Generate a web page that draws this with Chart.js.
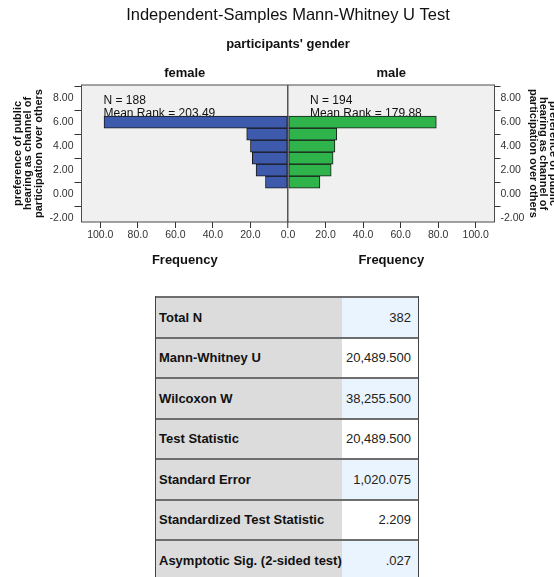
<!DOCTYPE html>
<html>
<head>
<meta charset="utf-8">
<script src="https://cdn.jsdelivr.net/npm/chart.js@4.4.1/dist/chart.umd.min.js"></script>
<style>
  body { margin: 0; background: #fff; width: 554px; height: 577px; overflow: hidden; position: relative;
         font-family: "Liberation Sans", Arial, sans-serif; }
  #chart { position: absolute; left: 0; top: 0; }
  #stats { position: absolute; left: 155px; top: 296px; width: 264px; box-sizing: border-box;
           border-left: 1.5px solid #444; border-right: 1.5px solid #444; }
  .row { display: flex; height: 40.5px; box-sizing: border-box; border-top: 2px solid #6e6e6e; }
  .lab { width: 186px; background: #dcdcdc; font-weight: bold; font-size: 13px; color: #111;
         display: flex; align-items: center; padding-left: 3px; box-sizing: border-box; }
  .val { flex: 1; font-size: 13px; color: #222; display: flex; align-items: center;
         justify-content: flex-end; padding-right: 7px; }
  .val.blue { background: #eaf4fe; }
  .val.white { background: #fff; }
</style>
</head>
<body>
<canvas id="chart" width="566" height="272"></canvas>
<div id="stats"></div>
<script>
// preference level (1..6) and bar frequencies per group
const levels = [1, 2, 3, 4, 5, 6];
const femaleFreq = [12, 17, 19, 20, 22, 98];
const maleFreq = [17, 23, 24, 25, 26, 79];

const freqTicks = [-100, -80, -60, -40, -20, 0, 20, 40, 60, 80, 100];
const levelTicks = [-2, 0, 2, 4, 6, 8];

const groupNames = ['female', 'male'];
const groupN = [188, 194];
const meanRanks = ['203.49', '179.88'];

const statLabels = ['Total N', 'Mann-Whitney U', 'Wilcoxon W', 'Test Statistic', 'Standard Error',
  'Standardized Test Statistic', 'Asymptotic Sig. (2-sided test)'];
const statValues = ['382', '20,489.500', '38,255.500', '20,489.500', '1,020.075', '2.209', '.027'];

const yTitle = ['preference of public', 'hearing as channel of', 'participation over others'];
const FONT = '"Liberation Sans", Arial, sans-serif';

// stats table
const stats = document.getElementById('stats');
statLabels.forEach((lab, i) => {
  const row = document.createElement('div');
  row.className = 'row';
  row.innerHTML = '<div class="lab">' + lab + '</div><div class="val ' + (i % 2 ? 'white' : 'blue') + '">' +
    statValues[i] + '</div>';
  stats.appendChild(row);
});

const panelText = {
  id: 'panelText',
  beforeDraw(chart) {
    const a = chart.chartArea, c = chart.ctx;
    c.save();
    c.fillStyle = '#f0f0f0';
    c.fillRect(a.left, a.top, a.right - a.left, a.bottom - a.top);
    c.restore();
  },
  beforeDatasetsDraw(chart) {
    const a = chart.chartArea, c = chart.ctx, x = chart.scales.x;
    const starts = [x.getPixelForValue(x.min), x.getPixelForValue(0)];
    c.save();
    c.font = '12px ' + FONT;
    c.fillStyle = '#111';
    c.textBaseline = 'middle';
    c.textAlign = 'left';
    starts.forEach((sx, i) => {
      c.fillText('N = ' + groupN[i], sx + 22, a.top + 16);
      c.fillText('Mean Rank = ' + meanRanks[i], sx + 22, a.top + 29);
    });
    c.restore();
  },
  afterDraw(chart) {
    const a = chart.chartArea, c = chart.ctx, x = chart.scales.x;
    const centers = [x.getPixelForValue(-55), x.getPixelForValue(55)];
    c.save();
    c.strokeStyle = '#4a4a4a';
    c.lineWidth = 1;
    c.strokeRect(a.left, a.top, a.right - a.left, a.bottom - a.top);
    c.fillStyle = '#111';
    c.textAlign = 'center';
    c.textBaseline = 'middle';
    c.font = 'bold 13px ' + FONT;
    centers.forEach((cx, i) => {
      c.fillText(groupNames[i], cx, a.top - 12);
      c.fillText('Frequency', cx, a.bottom + 38);
    });
    c.restore();
  }
};

new Chart(document.getElementById('chart'), {
  type: 'bar',
  data: {
    datasets: [
      {
        label: 'female',
        data: levels.map((l, i) => ({ y: l, x: -femaleFreq[i] })),
        backgroundColor: '#3d5aad'
      },
      {
        label: 'male',
        data: levels.map((l, i) => ({ y: l, x: maleFreq[i] })),
        backgroundColor: '#2eb44a'
      }
    ]
  },
  options: {
    indexAxis: 'y',
    responsive: false,
    animation: false,
    layout: { padding: 0 },
    datasets: {
      bar: {
        grouped: false,
        categoryPercentage: 1,
        barPercentage: 1,
        borderColor: '#1a1a1a',
        borderWidth: 1,
        borderSkipped: false
      }
    },
    plugins: {
      legend: { display: false },
      tooltip: { enabled: false },
      title: {
        display: true,
        text: 'Independent-Samples Mann-Whitney U Test',
        fullSize: false,
        color: '#111',
        font: { family: FONT, size: 16.5, weight: 'normal' },
        padding: { top: 6, bottom: 0 }
      },
      subtitle: {
        display: true,
        text: "participants' gender",
        fullSize: false,
        color: '#111',
        font: { family: FONT, size: 13, weight: 'bold' },
        padding: { top: 10.4, bottom: 33.2 }
      }
    },
    scales: {
      x: {
        type: 'linear',
        min: -110,
        max: 110,
        offset: false,
        afterBuildTicks: s => { s.ticks = freqTicks.map(v => ({ value: v })); },
        afterFit: s => { s.height = 50; },
        border: { display: false },
        grid: {
          drawOnChartArea: true,
          color: ctx => (ctx.tick && ctx.tick.value === 0 ? '#555' : 'rgba(0,0,0,0)'),
          lineWidth: ctx => (ctx.tick && ctx.tick.value === 0 ? 1.5 : 1),
          tickColor: '#333',
          tickWidth: 1,
          tickLength: 6
        },
        ticks: {
          color: '#333',
          padding: 1,
          maxRotation: 0,
          autoSkip: false,
          font: { family: FONT, size: 10.5 },
          callback: v => Math.abs(v).toFixed(1)
        }
      },
      y: {
        type: 'linear',
        position: 'left',
        min: -2.33,
        max: 9.1,
        offset: false,
        afterBuildTicks: s => { s.ticks = levelTicks.map(v => ({ value: v })); },
        afterFit: s => { s.width = 81.5; },
        border: { display: false },
        grid: { drawOnChartArea: false, tickColor: '#333', tickLength: 7 },
        ticks: {
          color: '#333',
          padding: 1,
          font: { family: FONT, size: 10.5 },
          callback: v => v.toFixed(2)
        },
        title: {
          display: true,
          text: yTitle,
          color: '#111',
          font: { family: FONT, size: 11, weight: 'bold', lineHeight: 0.95 },
          padding: { top: 12.75, bottom: 0 }
        }
      },
      yRight: {
        type: 'linear',
        position: 'right',
        min: -2.33,
        max: 9.1,
        offset: false,
        afterBuildTicks: s => { s.ticks = levelTicks.map(v => ({ value: v })); },
        afterFit: s => { s.width = 71.5; },
        border: { display: false },
        grid: { drawOnChartArea: false, tickColor: '#333', tickLength: 6 },
        ticks: {
          color: '#333',
          padding: 0,
          font: { family: FONT, size: 10.5 },
          callback: v => v.toFixed(2)
        },
        title: {
          display: true,
          text: yTitle,
          color: '#111',
          font: { family: FONT, size: 11, weight: 'bold', lineHeight: 0.95 },
          padding: { top: 7.25, bottom: 0 }
        }
      }
    }
  },
  plugins: [panelText]
});
</script>
</body>
</html>
